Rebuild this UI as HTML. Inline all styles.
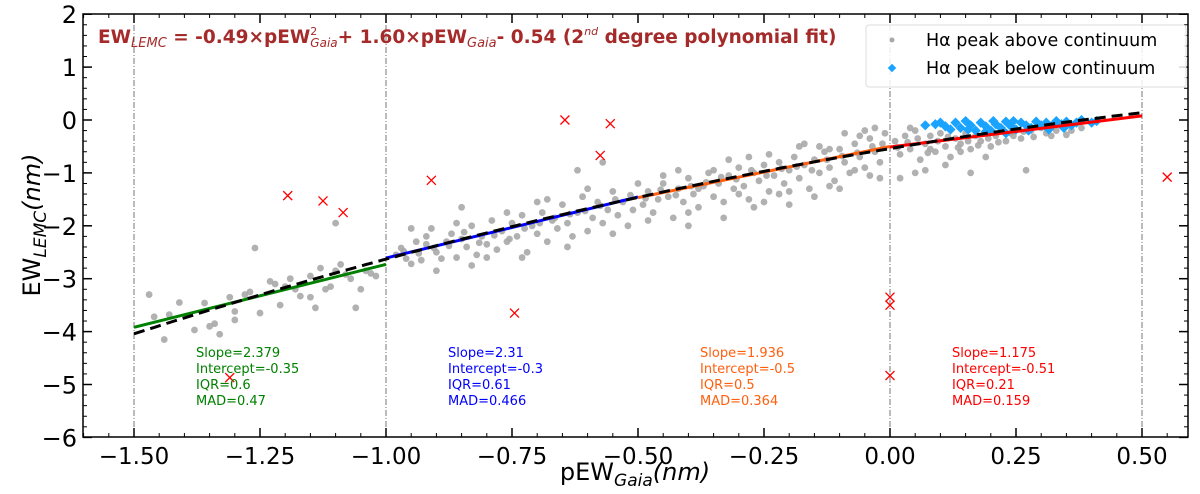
<!DOCTYPE html>
<html><head><meta charset="utf-8"><style>
body{margin:0;background:#fff;}
svg{display:block;font-family:"DejaVu Sans","Liberation Sans",sans-serif;}
</style></head><body>
<svg id="chart" width="1200" height="494" viewBox="0 0 1200 494" xmlns="http://www.w3.org/2000/svg">
<g id="grid"></g><g id="pts"></g><g id="lines"></g><g id="axes"></g>
<text x="98" y="43" fill="#a52a2a" font-weight="bold" font-size="18.5">EW<tspan font-size="13" font-style="italic" font-weight="normal" dy="4">LEMC</tspan><tspan dy="-4"> = -0.49×pEW</tspan><tspan font-size="11" font-weight="normal" dy="-8">2</tspan><tspan font-size="12" font-style="italic" font-weight="normal" dx="-7" dy="12">Gaia</tspan><tspan dy="-4">+ 1.60×pEW</tspan><tspan font-size="13" font-style="italic" font-weight="normal" dy="4">Gaia</tspan><tspan dy="-4">- 0.54 (2</tspan><tspan font-size="11" font-style="italic" font-weight="normal" dy="-8">nd</tspan><tspan dy="8"> degree polynomial fit)</tspan></text>
<g>
<rect x="866" y="25" width="320" height="62" rx="3" fill="#fff" fill-opacity="0.85" stroke="#ddd"/>
<circle cx="892" cy="40" r="2.5" fill="#a9a9a9"/>
<text x="926" y="46" font-size="17.5">Hα peak above continuum</text>
<rect x="889" y="65" width="6" height="6" fill="#1aa3ff" transform="rotate(45 892 68)"/>
<text x="926" y="74" font-size="17.5">Hα peak below continuum</text>
</g>
<text transform="translate(40,225) rotate(-90)" text-anchor="middle" font-size="24">EW<tspan font-size="17" font-style="italic" dy="6">LEMC</tspan><tspan dy="-6" font-style="italic">(nm)</tspan></text>
<text x="635" y="480" text-anchor="middle" font-size="24">pEW<tspan font-size="17" font-style="italic" dy="6">Gaia</tspan><tspan dy="-6" font-style="italic">(nm)</tspan></text>
</svg>
<script>
const gray=[[-1.47,-3.3],[-1.46,-3.72],[-1.44,-4.15],[-1.43,-3.68],[-1.41,-3.45],[-1.38,-3.97],[-1.36,-3.46],[-1.35,-3.9],[-1.34,-3.85],[-1.33,-4.05],[-1.31,-3.35],[-1.3,-3.62],[-1.3,-3.78],[-1.28,-3.3],[-1.27,-3.25],[-1.25,-3.65],[-1.23,-3.05],[-1.22,-3.1],[-1.21,-3.5],[-1.2,-3.15],[-1.19,-3.0],[-1.18,-3.2],[-1.17,-3.33],[-1.15,-3.35],[-1.14,-3.55],[-1.13,-2.8],[-1.12,-3.2],[-1.1,-2.85],[-1.09,-2.73],[-1.08,-2.92],[-1.07,-3.0],[-1.06,-3.55],[-1.05,-3.2],[-1.04,-2.85],[-1.03,-2.9],[-1.02,-2.95],[-1.15,-2.95],[-1.1,-1.95],[-1.26,-2.42],[-1.11,-3.15],
[-0.98,-2.55],[-0.97,-2.42],[-0.96,-2.62],[-0.95,-2.72],[-0.94,-2.3],[-0.93,-2.65],[-0.92,-2.35],[-0.91,-2.05],[-0.9,-2.5],[-0.89,-2.62],[-0.88,-2.3],[-0.87,-2.15],[-0.86,-2.6],[-0.85,-2.25],[-0.84,-2.4],[-0.83,-2.0],[-0.82,-2.55],[-0.81,-2.2],[-0.8,-2.35],[-0.79,-1.9],[-0.78,-2.45],[-0.77,-2.1],[-0.76,-2.3],[-0.75,-1.95],[-0.74,-2.2],[-0.73,-1.8],[-0.72,-2.5],[-0.71,-2.0],[-0.7,-2.15],[-0.69,-1.75],[-0.68,-2.3],[-0.67,-1.9],[-0.66,-2.05],[-0.65,-1.6],[-0.64,-1.95],[-0.63,-2.2],[-0.62,-1.75],[-0.61,-1.45],[-0.6,-2.1],[-0.59,-1.85],[-0.58,-1.55],[-0.57,-1.95],[-0.56,-1.7],[-0.55,-1.35],[-0.54,-1.8],[-0.53,-1.55],[-0.52,-2.0],[-0.51,-1.7],[-0.85,-1.65],[-0.95,-2.05],[-0.9,-2.85],[-0.62,-0.95],[-0.57,-0.8],[-0.7,-1.55],[-0.8,-2.6],
[-0.49,-1.6],[-0.48,-1.35],[-0.47,-1.75],[-0.46,-1.5],[-0.45,-1.2],[-0.44,-1.45],[-0.43,-1.85],[-0.42,-1.3],[-0.41,-1.55],[-0.4,-1.1],[-0.39,-1.4],[-0.38,-1.65],[-0.37,-1.25],[-0.36,-1.0],[-0.35,-1.45],[-0.34,-1.2],[-0.33,-1.55],[-0.32,-1.05],[-0.31,-1.3],[-0.3,-0.9],[-0.29,-1.25],[-0.28,-1.5],[-0.27,-1.0],[-0.26,-1.15],[-0.25,-0.85],[-0.24,-1.35],[-0.23,-1.05],[-0.22,-0.8],[-0.21,-1.2],[-0.2,-0.95],[-0.19,-0.7],[-0.18,-1.1],[-0.17,-0.85],[-0.16,-1.3],[-0.15,-0.75],[-0.14,-1.0],[-0.13,-0.6],[-0.12,-0.9],[-0.11,-1.15],[-0.1,-0.55],[-0.09,-0.8],[-0.08,-1.0],[-0.07,-0.45],[-0.06,-0.7],[-0.05,-0.9],[-0.04,-0.35],[-0.03,-0.6],[-0.02,-0.8],[-0.01,-0.25],[-0.3,-1.4],[-0.25,-1.55],[-0.2,-1.35],[-0.15,-1.45],[-0.35,-0.95],[-0.4,-1.75],[-0.28,-0.7],[-0.18,-0.5],[-0.1,-1.3],[-0.05,-0.2],[-0.12,-0.55],[-0.22,-1.4],[-0.45,-1.05],[-0.38,-1.3],[-0.02,-1.1],[-0.07,-0.95],
[0.01,-0.4],[0.02,-0.65],[0.03,-0.3],[0.04,-0.55],[0.05,-0.2],[0.06,-0.75],[0.07,-0.45],[0.08,-0.3],[0.09,-0.6],[0.1,-0.25],[0.11,-0.5],[0.12,-0.7],[0.13,-0.35],[0.14,-0.45],[0.15,-0.25],[0.16,-0.55],[0.17,-0.3],[0.18,-0.4],[0.19,-0.2],[0.2,-0.5],[0.21,-0.3],[0.22,-0.15],[0.23,-0.4],[0.24,-0.25],[0.26,-0.35],[0.28,-0.2],[0.3,-0.15],[0.32,-0.3],[0.34,-0.1],[0.36,-0.2],[0.05,-1.0],[0.02,-1.1],[0.16,-1.0],[0.27,-0.95],[0.11,-0.85],[0.08,-0.55],[0.04,-0.15],[0.14,-0.6],
[-0.965,-2.48],[-0.935,-2.52],[-0.905,-2.42],[-0.875,-2.38],[-0.845,-2.12],[-0.815,-2.32],[-0.785,-2.18],[-0.755,-2.25],[-0.725,-2.05],[-0.695,-1.95],[-0.665,-1.85],[-0.635,-1.78],[-0.605,-1.72],[-0.575,-1.62],[-0.545,-1.5],[-0.515,-1.42],[-0.485,-1.48],[-0.455,-1.32],[-0.425,-1.42],[-0.395,-1.25],[-0.365,-1.18],[-0.335,-1.08],[-0.305,-1.12],[-0.275,-0.95],[-0.245,-1.05],[-0.215,-0.92],[-0.185,-0.88],[-0.155,-0.95],[-0.125,-0.75],[-0.095,-0.68],[-0.065,-0.62],[-0.035,-0.5],[-0.015,-0.45],[0.015,-0.52],[0.035,-0.42],[0.055,-0.35],[0.075,-0.62],[0.095,-0.4],[0.115,-0.32],[0.135,-0.52],[0.155,-0.4],[0.175,-0.48],[0.195,-0.35],[0.215,-0.42],[0.245,-0.3],[0.265,-0.22],[0.285,-0.32],[0.31,-0.25],[0.33,-0.2],[0.35,-0.28],[0.38,-0.15],[-0.03,-0.15],[-0.06,-0.3],[-0.09,-0.25],[-0.14,-0.5],[-0.17,-0.45],[-0.24,-0.65],[-0.32,-0.75],[-0.42,-0.95],[-0.5,-1.2],[-0.6,-1.3],[-0.68,-1.5],[-0.76,-1.75],[-0.86,-1.95],[-0.92,-2.2],[-0.48,-1.9],[-0.4,-2.0],[-0.33,-1.85],[-0.27,-1.65],[-0.2,-1.6],[-0.12,-1.25],[-0.04,-1.05],[0.07,-0.95],[0.19,-0.7],[-0.73,-2.6],[-0.64,-2.4],[-0.55,-2.15],[-0.83,-2.75]];
const blue=[[0.07,-0.1],[0.09,-0.08],[0.11,-0.12],[0.13,-0.05],[0.14,-0.15],[0.16,-0.1],[0.17,-0.2],[0.18,-0.05],[0.19,-0.12],[0.2,-0.2],[0.21,-0.08],[0.22,-0.15],[0.23,-0.03],[0.24,-0.12],[0.25,-0.18],[0.26,-0.05],[0.27,-0.1],[0.28,-0.15],[0.29,-0.03],[0.3,-0.1],[0.31,-0.05],[0.32,-0.12],[0.33,-0.02],[0.34,-0.08],[0.35,-0.03],[0.36,-0.1],[0.37,-0.05],[0.38,0.0],[0.4,-0.05],[0.41,-0.02],[0.15,-0.02],[0.19,-0.22],[0.23,-0.25],[0.1,-0.05],[0.12,-0.18],[0.155,-0.18],[0.205,-0.02],[0.245,-0.02],[0.275,-0.2],[0.315,-0.18],[0.345,-0.15]];
const outliers=[[-1.31,-4.87],[-1.195,-1.43],[-1.125,-1.53],[-1.085,-1.75],[-0.91,-1.14],[-0.745,-3.65],[-0.645,0],[-0.575,-0.67],[-0.555,-0.07],[0,-3.35],[0,-3.5],[0,-4.83],[0.55,-1.08]];
const segStart=[-1.5,-1.0,-0.5,0.0];
const segEnd=[-1.0,-0.5,0.0,0.5];
const segSlope=[2.379,2.31,1.936,1.175];
const segIntercept=[-0.35,-0.3,-0.5,-0.51];
const segIQR=[0.6,0.61,0.5,0.21];
const segMAD=[0.47,0.466,0.364,0.159];
const polyCoef=[-0.49,1.60,-0.54];
const xTicks=[-1.5,-1.25,-1.0,-0.75,-0.5,-0.25,0,0.25,0.5];
const xTickLabels=["−1.50","−1.25","−1.00","−0.75","−0.50","−0.25","0.00","0.25","0.50"];
const yTicks=[2,1,0,-1,-2,-3,-4,-5,-6];
const yTickLabels=["2","1","0","−1","−2","−3","−4","−5","−6"];

const NS="http://www.w3.org/2000/svg";
const L=83,R=1188,T=14,B=437;
const X=v=>890+(v)*504;
const Y=v=>120-v*52.9;
function mk(t,a,p){const e=document.createElementNS(NS,t);for(const k in a)e.setAttribute(k,a[k]);document.getElementById(p).appendChild(e);return e;}
const segColors=["#008000","#0000ff","#ff5f0f","#ff0000"];
[-1.5,-1.0,0,0.5].forEach(v=>{const e=mk('line',{x1:X(v),x2:X(v),y1:T,y2:B,stroke:'#777','stroke-width':1,'stroke-dasharray':'6,2,1,2'},'grid');

});
gray.forEach(p=>{const e=mk('circle',{cx:X(p[0]),cy:Y(p[1]),r:3.4,fill:'#a9a9a9','fill-opacity':0.9},'pts');

});
blue.forEach(p=>{const cx=X(p[0]),cy=Y(p[1]);const e=mk('rect',{x:cx-3.6,y:cy-3.6,width:7.2,height:7.2,fill:'#1aa3ff',transform:`rotate(45 ${cx} ${cy})`},'pts');

});
outliers.forEach(p=>{const cx=X(p[0]),cy=Y(p[1]);const e=mk('path',{d:`M${cx-4.5} ${cy-4.5}L${cx+4.5} ${cy+4.5}M${cx-4.5} ${cy+4.5}L${cx+4.5} ${cy-4.5}`,stroke:'#ff0000','stroke-width':1.3,fill:'none'},'pts');

});
segStart.forEach((s,i)=>{const e2=segEnd[i];const e=mk('line',{x1:X(s),y1:Y(segSlope[i]*s+segIntercept[i]),x2:X(e2),y2:Y(segSlope[i]*e2+segIntercept[i]),stroke:segColors[i],'stroke-width':3},'lines');


const tx=X(s)+62;const lines=["Slope="+segSlope[i],"Intercept="+segIntercept[i],"IQR="+segIQR[i],"MAD="+segMAD[i]];
lines.forEach((t,j)=>{const te=mk('text',{x:tx,y:357+j*16,fill:segColors[i],'font-size':13},'lines');te.textContent=t;

});});
let d='';for(let k=0;k<=100;k++){const v=-1.5+2*k/100;const y=polyCoef[0]*v*v+polyCoef[1]*v+polyCoef[2];d+=(k?'L':'M')+X(v).toFixed(1)+' '+Y(y).toFixed(1);}
const pl=mk('path',{d:d,stroke:'#000','stroke-width':3,fill:'none','stroke-dasharray':'11,6'},'lines');


const fr=mk('rect',{x:L,y:T,width:R-L,height:B-T,fill:'none',stroke:'#000','stroke-width':1.5},'axes');


for(let v=-1.6;v<=0.59;v+=0.05){const x=X(v);if(x<L||x>R)continue;mk('line',{x1:x,x2:x,y1:B,y2:B-4,stroke:'#000'},'axes');mk('line',{x1:x,x2:x,y1:T,y2:T+4,stroke:'#000'},'axes');}
xTicks.forEach((v,i)=>{mk('line',{x1:X(v),x2:X(v),y1:B,y2:B-9,stroke:'#000','stroke-width':1.5},'axes');mk('line',{x1:X(v),x2:X(v),y1:T,y2:T+9,stroke:'#000','stroke-width':1.5},'axes');
const t=mk('text',{x:X(v),y:B+27,'text-anchor':'middle','font-size':23},'axes');t.textContent=xTickLabels[i];

});
for(let v=-6;v<=2.01;v+=0.2){const y=Y(v);mk('line',{x1:L,x2:L+4,y1:y,y2:y,stroke:'#000'},'axes');mk('line',{x1:R,x2:R-4,y1:y,y2:y,stroke:'#000'},'axes');}
yTicks.forEach((v,i)=>{mk('line',{x1:L,x2:L+9,y1:Y(v),y2:Y(v),stroke:'#000','stroke-width':1.5},'axes');mk('line',{x1:R,x2:R-9,y1:Y(v),y2:Y(v),stroke:'#000','stroke-width':1.5},'axes');
const t=mk('text',{x:L-6,y:Y(v)+9,'text-anchor':'end','font-size':24},'axes');t.textContent=yTickLabels[i];

});
</script>
</body></html>
